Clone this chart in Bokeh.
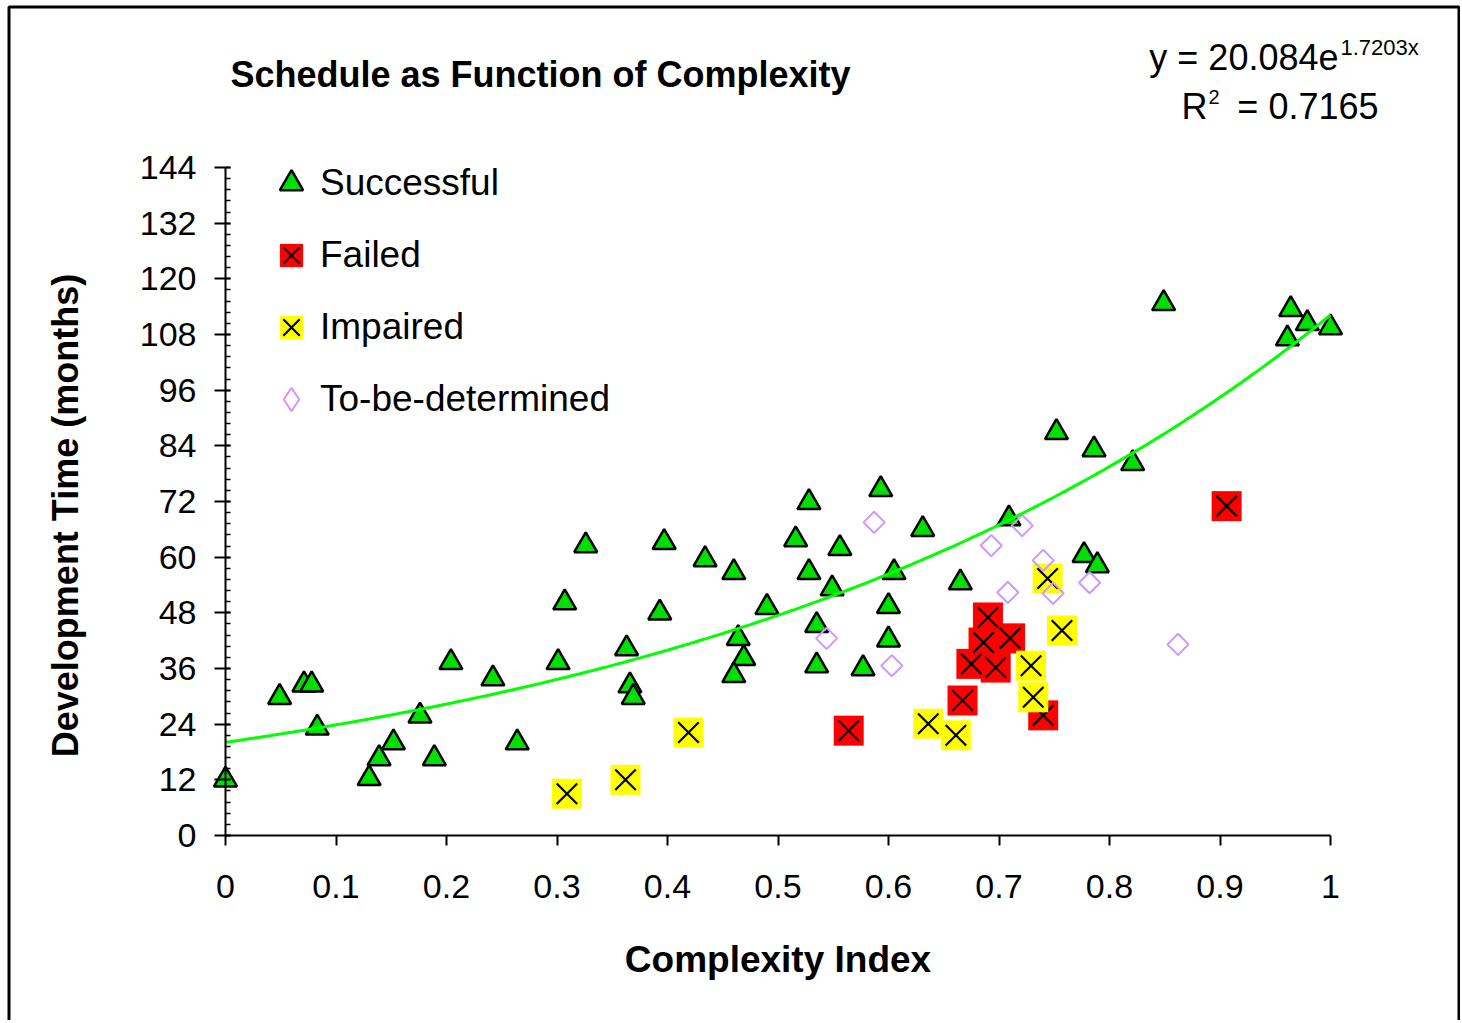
import numpy as np
from bokeh.plotting import figure
from bokeh.models import (Range1d, LinearAxis, FixedTicker, Label, Legend, LegendItem,
                          BoxAnnotation)
from bokeh.embed import file_html
from bokeh.resources import INLINE

FONT = "Liberation Sans"

# ---------------- data ----------------
succ_x = [0.000, 0.049, 0.071, 0.078, 0.083, 0.130, 0.139, 0.152, 0.176, 0.189,
          0.204, 0.242, 0.264, 0.301, 0.307, 0.326, 0.363, 0.366, 0.369, 0.393,
          0.397, 0.434, 0.460, 0.464, 0.469, 0.460, 0.490, 0.516, 0.528, 0.528,
          0.556, 0.549, 0.535, 0.535, 0.577, 0.593, 0.631, 0.605, 0.600, 0.600,
          0.665, 0.709, 0.752, 0.777, 0.786, 0.789, 0.821, 0.849, 0.961, 0.964,
          0.979, 1.000]
succ_y = [12.0, 29.8, 32.5, 32.5, 23.2, 12.3, 16.6, 20.0, 25.8, 16.6,
          37.3, 33.8, 20.0, 37.3, 50.2, 62.5, 40.3, 32.3, 29.8, 48.0,
          63.2, 59.5, 56.7, 42.5, 38.2, 34.5, 49.2, 63.8, 71.8, 56.7,
          61.9, 53.2, 45.3, 36.6, 36.0, 74.6, 66.0, 56.7, 49.4, 42.2,
          54.5, 68.3, 86.9, 60.4, 83.2, 58.2, 80.2, 114.7, 107.1, 113.4,
          110.4, 109.5]

fail_x = [0.564, 0.667, 0.675, 0.686, 0.690, 0.697, 0.710, 0.740, 0.906]
fail_y = [22.6, 29.1, 37.0, 41.6, 47.0, 36.2, 42.5, 25.9, 71.0]

imp_x = [0.309, 0.362, 0.419, 0.636, 0.661, 0.729, 0.731, 0.744, 0.757]
imp_y = [9.0, 12.0, 22.2, 24.1, 21.6, 36.6, 29.8, 55.4, 44.2]

tbd_x = [0.544, 0.587, 0.603, 0.693, 0.708, 0.721, 0.740, 0.749, 0.782, 0.862]
tbd_y = [42.5, 67.5, 36.6, 62.5, 52.4, 66.8, 59.3, 52.2, 54.5, 41.2]

x_ticks = [0, 0.1, 0.2, 0.3, 0.4, 0.5, 0.6, 0.7, 0.8, 0.9, 1]
x_tick_labels = ["0", "0.1", "0.2", "0.3", "0.4", "0.5", "0.6", "0.7", "0.8", "0.9", "1"]
y_ticks = [0, 12, 24, 36, 48, 60, 72, 84, 96, 108, 120, 132, 144]
y_minor = [i * 2.4 for i in range(61)]

trend_a = 20.084
trend_b = 1.7203
r_squared = "0.7165"

# ---------------- geometry (canvas pixels) ----------------
W, H = 1460, 1020
X0_PX, X1_PX = 225.0, 1330.0      # pixel of x = 0 and x = 1
Y0_PX, Y1_PX = 835.0, 167.0       # pixel of y = 0 and y = 144
sx = (X1_PX - X0_PX) / 1.0
sy = (Y0_PX - Y1_PX) / 144.0

def dx(px):
    return (px - X0_PX) / sx

def dy(py):
    return (Y0_PX - py) / sy

p = figure(width=W, height=H, output_backend="svg", toolbar_location=None, title=None,
           x_range=Range1d(dx(0), dx(W)), y_range=Range1d(dy(H), dy(0)),
           x_axis_location=None, y_axis_location=None,
           min_border=0, min_border_left=0, min_border_right=0,
           min_border_top=0, min_border_bottom=0,
           background_fill_color="white", border_fill_color="white", outline_line_color=None)
for g in p.grid:
    g.visible = False
# a range far off the canvas, used only by the legend-only diamond renderer
p.extra_y_ranges = {"legend_only": Range1d(10000, 10001)}

# x axis
xaxis = LinearAxis(ticker=FixedTicker(ticks=x_ticks, minor_ticks=[]), bounds=(0, 1),
                   fixed_location=0)
xaxis.major_label_overrides = {t: l for t, l in zip(x_ticks, x_tick_labels)}
xaxis.axis_label = "Complexity Index"
xaxis.axis_label_text_font = FONT
xaxis.axis_label_text_font_style = "bold"
xaxis.axis_label_text_font_size = "37px"
xaxis.axis_label_text_color = "black"
xaxis.axis_label_standoff = 38
xaxis.major_label_text_font = FONT
xaxis.major_label_text_font_size = "34px"
xaxis.major_label_text_color = "black"
xaxis.major_label_standoff = 29
xaxis.axis_line_width = 2
xaxis.axis_line_color = "black"
xaxis.major_tick_line_width = 2
xaxis.major_tick_line_color = "black"
xaxis.major_tick_out = 10
xaxis.major_tick_in = 0
xaxis.minor_tick_line_color = None
p.add_layout(xaxis, "below")

# y axis (title drawn as a rotated label below)
yaxis = LinearAxis(ticker=FixedTicker(ticks=y_ticks, minor_ticks=y_minor), bounds=(0, 144),
                   fixed_location=0)
yaxis.major_label_text_font = FONT
yaxis.major_label_text_font_size = "34px"
yaxis.major_label_text_color = "black"
yaxis.major_label_standoff = 18
yaxis.axis_line_width = 2
yaxis.axis_line_color = "black"
yaxis.major_tick_line_width = 2
yaxis.major_tick_line_color = "black"
yaxis.major_tick_out = 11
yaxis.major_tick_in = 5
yaxis.minor_tick_line_width = 1.5
yaxis.minor_tick_line_color = "black"
yaxis.minor_tick_in = 5
yaxis.minor_tick_out = 0
p.add_layout(yaxis, "left")

# ---------------- series ----------------
succ = p.scatter(succ_x, succ_y, marker="triangle", size=23, fill_color="#00E000",
                 line_color="black", line_width=2.5)

fail_sq = p.scatter(fail_x, fail_y, marker="square", size=30, fill_color="#FF0000",
                    line_color=None)
fail_x_r = p.scatter(fail_x, fail_y, marker="x", size=29, line_color="black", line_width=2.2)

imp_sq = p.scatter(imp_x, imp_y, marker="square", size=30, fill_color="#FFFF00",
                   line_color=None)
imp_x_r = p.scatter(imp_x, imp_y, marker="x", size=29, line_color="black", line_width=2.2)

tbd = p.scatter(tbd_x, tbd_y, marker="square", size=15, angle=np.pi / 4, fill_color=None,
                line_color="#CC99FF", line_width=2)
# legend-only diamond: same data, mapped to a range far off the canvas
tbd_leg = p.scatter(tbd_x, tbd_y, y_range_name="legend_only", marker="diamond", size=24,
                    fill_color=None, line_color="#CC99FF", line_width=2)

trend_xs = np.linspace(0, 1, 201)
trend_ys = trend_a * np.exp(trend_b * trend_xs)
p.line(trend_xs, trend_ys, line_color="#00FF00", line_width=3)

# ---------------- legend ----------------
legend = Legend(items=[
    LegendItem(label="Successful", renderers=[succ]),
    LegendItem(label="Failed", renderers=[fail_sq, fail_x_r]),
    LegendItem(label="Impaired", renderers=[imp_sq, imp_x_r]),
    LegendItem(label="To-be-determined", renderers=[tbd_leg]),
], location=(262, H - 429), glyph_width=58, glyph_height=60, label_height=60, spacing=12,
    label_standoff=0, padding=0, margin=0, border_line_color=None,
    background_fill_alpha=0, label_text_font=FONT, label_text_font_size="37px",
    label_text_color="black")
p.add_layout(legend)

# ---------------- texts ----------------
def add_text(text, px, py, size, align="left", bold=False, angle=0.0):
    p.add_layout(Label(x=dx(px), y=dy(py), text=text, text_font=FONT,
                       text_font_size=size, text_align=align, text_baseline="middle",
                       text_font_style="bold" if bold else "normal", text_color="black",
                       angle=angle))

add_text("Schedule as Function of Complexity", 540, 74, "36px", align="center", bold=True)
add_text("Development Time (months)", 65, 515, "36px", align="center", bold=True,
         angle=np.pi / 2)
add_text("y = %.3fe" % trend_a, 1338, 57, "36px", align="right")
add_text("%.4fx" % trend_b, 1340, 47, "22px")
add_text("R", 1207, 106, "36px", align="right")
add_text("2", 1208, 96, "20px")
add_text("= " + r_squared, 1378, 106, "36px", align="right")

# chart border
p.add_layout(BoxAnnotation(left=dx(8.5), right=dx(W - 1.5), top=dy(6.5), bottom=dy(H + 20),
                           fill_color=None, fill_alpha=0, line_color="black",
                           line_alpha=1.0, line_width=3))

open("out.html", "w").write(file_html(p, INLINE))
